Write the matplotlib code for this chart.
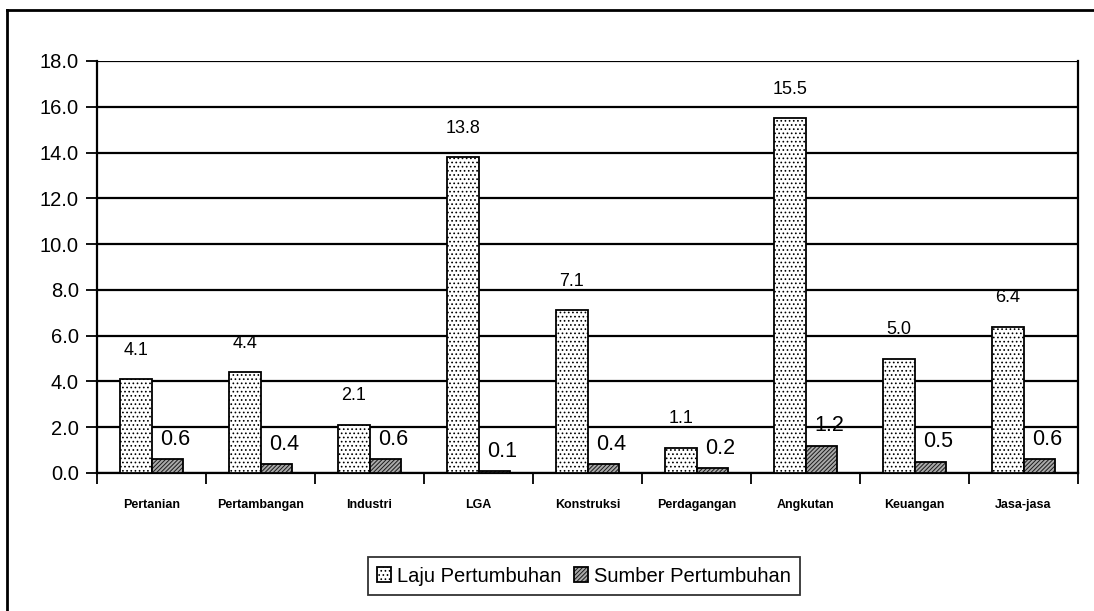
import numpy as np
import matplotlib
matplotlib.use("Agg")
import matplotlib.pyplot as plt
from matplotlib.lines import Line2D

plt.rcParams['font.family'] = ['Liberation Sans Narrow', 'Liberation Sans', 'DejaVu Sans']
plt.rcParams['hatch.linewidth'] = 0.7

categories = ['Pertanian', 'Pertambangan', 'Industri', 'LGA', 'Konstruksi',
              'Perdagangan', 'Angkutan', 'Keuangan', 'Jasa-jasa']
laju = [4.1, 4.4, 2.1, 13.8, 7.1, 1.1, 15.5, 5.0, 6.4]
sumber = [0.6, 0.4, 0.6, 0.1, 0.4, 0.2, 1.2, 0.5, 0.6]
series_names = ['Laju Pertumbuhan', 'Sumber Pertumbuhan']

fig = plt.figure(figsize=(10.94, 6.11), dpi=100)
ax = fig.add_axes([97 / 1094, 1 - 473 / 611, 981 / 1094, 412 / 611])

x = np.arange(len(categories))
w = 0.29
plt.rcParams['hatch.color'] = '#888888'
b1 = ax.bar(x - w / 2, laju, w, facecolor='white', edgecolor='black',
            linewidth=1.3, hatch='....', label=series_names[0], zorder=3)
b2 = ax.bar(x + w / 2, sumber, w, facecolor='#aaaaaa', edgecolor='black',
            linewidth=1.3, hatch='////////', label=series_names[1], zorder=3)
for p in b2:
    p._hatch_color = (0.1, 0.1, 0.1, 1)

# data labels
for xi, v in zip(x, laju):
    ax.text(xi - w / 2, v + 0.9, f'{v:.1f}', ha='center', va='bottom', fontsize=13)
for xi, v in zip(x, sumber):
    ax.text(xi + w / 2 + 0.07, v + 0.4, f'{v:.1f}', ha='center', va='bottom', fontsize=15.5)

ax.set_xlim(-0.5, len(categories) - 0.5)
ax.set_ylim(0, 18)
ax.set_yticks(np.arange(0, 18.1, 2))
ax.set_yticklabels([f'{t:.1f}' for t in np.arange(0, 18.1, 2)], fontsize=14.5)
ax.yaxis.grid(True, color='black', linewidth=1.6, zorder=0)
ax.set_axisbelow(True)

ax.set_xticks(x)
ax.set_xticklabels(categories, fontsize=9, fontweight='bold')
ax.tick_params(axis='x', length=0, pad=19)
ax.set_xticks(np.arange(-0.5, len(categories), 1), minor=True)
ax.tick_params(axis='x', which='minor', length=8, width=1.3, direction='out')
ax.tick_params(axis='y', length=8, width=1.3, direction='out', pad=5)

for side in ['left', 'bottom', 'right']:
    ax.spines[side].set_linewidth(1.6)
ax.spines['top'].set_visible(False)

leg = fig.legend(handles=[b1, b2], labels=series_names, loc='center',
                 bbox_to_anchor=(584 / 1094, 1 - 576 / 611), ncol=2,
                 fontsize=14.5, frameon=True, fancybox=False, edgecolor='black',
                 handlelength=0.7, handleheight=0.7, handletextpad=0.3,
                 columnspacing=0.6, borderpad=0.45, borderaxespad=0)
leg.get_frame().set_linewidth(1.3)

# outer chart frame
fig.add_artist(Line2D([7 / 1094, 7 / 1094], [0, 1 - 10 / 611], color='black', lw=2))
fig.add_artist(Line2D([7 / 1094, 1], [1 - 10 / 611, 1 - 10 / 611], color='black', lw=2))

fig.savefig('out.png', dpi=100)
